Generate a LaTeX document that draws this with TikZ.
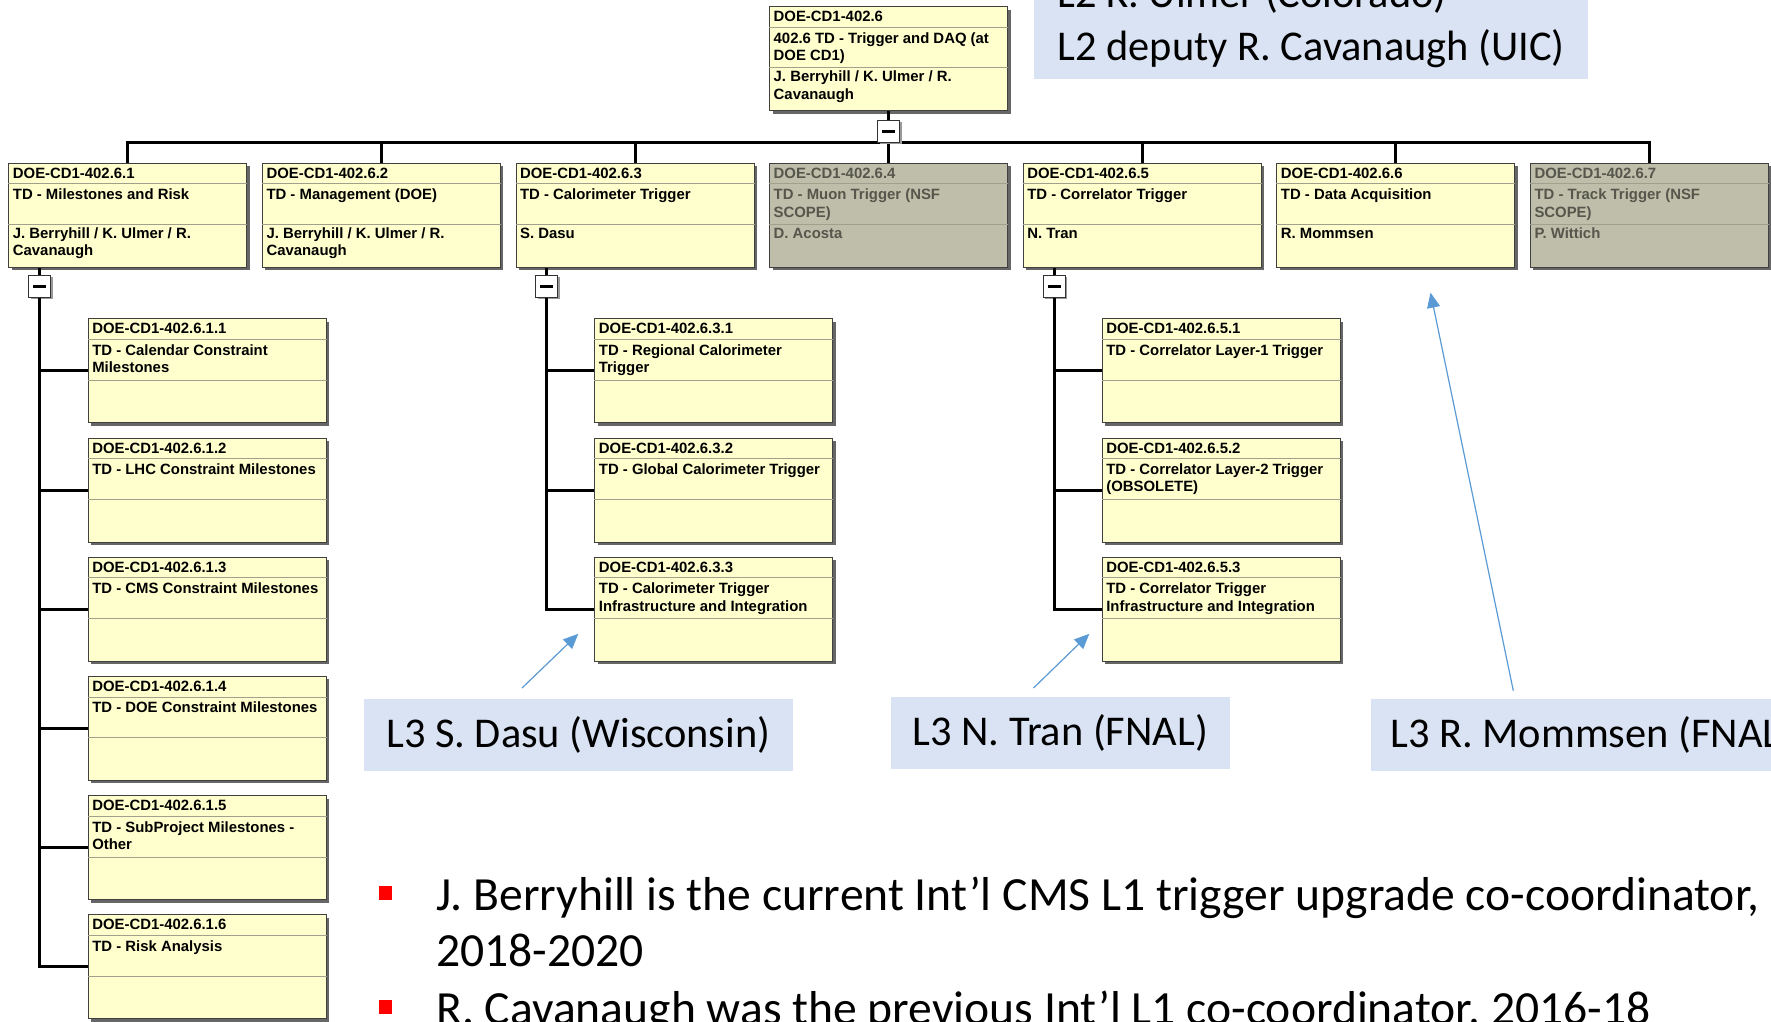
\documentclass[tikz,border=0pt]{standalone}
\usepackage{fontspec}
\setmainfont{Liberation Sans}
\newfontfamily\calibri{Carlito}
\usetikzlibrary{arrows.meta,shadows,positioning}

\definecolor{boxyellow}{RGB}{255,255,206}
\definecolor{boxgray}{RGB}{190,190,170}
\definecolor{txtyellow}{RGB}{0,0,0}
\definecolor{txtgray}{RGB}{86,86,76}
\definecolor{rulecolor}{RGB}{160,160,140}
\definecolor{noteblue}{RGB}{218,227,243}
\definecolor{arrowblue}{RGB}{91,155,213}

\begin{document}
\begin{tikzpicture}[x=1pt, y=-1pt,
            wbs/.style = {
                draw=black!75, line width=1pt,
                minimum width=238pt, minimum height=104pt,
                inner sep=0pt, anchor=north west,
                drop shadow={shadow xshift=3pt, shadow yshift=-3pt, opacity=1, fill=black!60}
            },
            wbsrule/.style = {draw=rulecolor, line width=0.8pt},
            lbl/.style = {
                anchor=base west, inner sep=0pt, text width=230pt, align=flush left,
                font=\fontsize{14.9}{17.4}\selectfont\bfseries
            },
            wbsedge/.style = {line width=3pt},
            btn/.style = {
                draw=black!80, fill=white, line width=1pt, minimum size=22pt, inner sep=0pt,
                drop shadow={shadow xshift=2pt, shadow yshift=-2pt, opacity=1, fill=black!40}
            },
            l3note/.style = {
                fill=noteblue, inner sep=0pt, anchor=north west, minimum height=72pt,
                font=\calibri\fontsize{42.4}{52}\selectfont
            },
            pointer/.style = {
                draw=arrowblue, line width=1.2pt,
                -{Triangle[length=15pt,width=13pt]}
            },
            bulletsq/.style = {fill=red, minimum width=13pt, minimum height=14pt, inner sep=0pt},
            bullettext/.style = {
                anchor=base west, inner sep=0pt, text width=1400pt, align=flush left,
                font=\calibri\fontsize{47.6}{56.7}\selectfont
            }
            ]
            \useasboundingbox (0,0) rectangle (1771,1021);
            \clip (0,0) rectangle (1771,1021);
            \fill[white] (0,0) rectangle (1771,1021);

            % one WBS box: name, colour, placement, id, title, person
            \newcommand{\wbsbox}[6]{%
                \node[wbs, fill=box#2, #3] (#1) {};
                \draw[wbsrule] ([yshift=-21pt]#1.north west) -- ([yshift=-21pt]#1.north east);
                \draw[wbsrule] ([yshift=-61.8pt]#1.north west) -- ([yshift=-61.8pt]#1.north east);
                \node[lbl, text=txt#2] (#1id) at ([xshift=4.4pt,yshift=-15.6pt]#1.north west) {#4};
                \node[lbl, text=txt#2] (#1ti) at ([xshift=4.4pt,yshift=-37pt]#1.north west) {#5};
                \node[lbl, text=txt#2] (#1pe) at ([xshift=4.4pt,yshift=-75.6pt]#1.north west) {#6};
            }

            % Top level
            \wbsbox{top}{yellow}{at={(769.1,6)}}{DOE-CD1-402.6}{402.6 TD - Trigger and DAQ (at\\DOE CD1)}{J. Berryhill / K. Ulmer / R.\\Cavanaugh}

            % Second level
            \wbsbox{b1}{yellow}{at={(8.3,162.7)}}{DOE-CD1-402.6.1}{TD - Milestones and Risk}{J. Berryhill / K. Ulmer / R.\\Cavanaugh}
            \wbsbox{b2}{yellow}{right=14.6pt of b1}{DOE-CD1-402.6.2}{TD - Management (DOE)}{J. Berryhill / K. Ulmer / R.\\Cavanaugh}
            \wbsbox{b3}{yellow}{right=14.6pt of b2}{DOE-CD1-402.6.3}{TD - Calorimeter Trigger}{S. Dasu}
            \wbsbox{b4}{gray}{right=14.6pt of b3}{DOE-CD1-402.6.4}{TD - Muon Trigger (NSF\\SCOPE)}{D. Acosta}
            \wbsbox{b5}{yellow}{right=14.6pt of b4}{DOE-CD1-402.6.5}{TD - Correlator Trigger}{N. Tran}
            \wbsbox{b6}{yellow}{right=14.6pt of b5}{DOE-CD1-402.6.6}{TD - Data Acquisition}{R. Mommsen}
            \wbsbox{b7}{gray}{right=14.6pt of b6}{DOE-CD1-402.6.7}{TD - Track Trigger (NSF\\SCOPE)}{P. Wittich}

            % Third level
            \wbsbox{b1c1}{yellow}{at={(87.7,318.3)}}{DOE-CD1-402.6.1.1}{TD - Calendar Constraint\\Milestones}{}
            \wbsbox{b1c2}{yellow}{below=14.2pt of b1c1}{DOE-CD1-402.6.1.2}{TD - LHC Constraint Milestones}{}
            \wbsbox{b1c3}{yellow}{below=14.2pt of b1c2}{DOE-CD1-402.6.1.3}{TD - CMS Constraint Milestones}{}
            \wbsbox{b1c4}{yellow}{below=14.2pt of b1c3}{DOE-CD1-402.6.1.4}{TD - DOE Constraint Milestones}{}
            \wbsbox{b1c5}{yellow}{below=14.2pt of b1c4}{DOE-CD1-402.6.1.5}{TD - SubProject Milestones -\\Other}{}
            \wbsbox{b1c6}{yellow}{below=14.2pt of b1c5}{DOE-CD1-402.6.1.6}{TD - Risk Analysis}{}

            \wbsbox{b3c1}{yellow}{at={(594.3,318.3)}}{DOE-CD1-402.6.3.1}{TD - Regional Calorimeter\\Trigger}{}
            \wbsbox{b3c2}{yellow}{below=14.2pt of b3c1}{DOE-CD1-402.6.3.2}{TD - Global Calorimeter Trigger}{}
            \wbsbox{b3c3}{yellow}{below=14.2pt of b3c2}{DOE-CD1-402.6.3.3}{TD - Calorimeter Trigger\\Infrastructure and Integration}{}

            \wbsbox{b5c1}{yellow}{at={(1101.7,318.3)}}{DOE-CD1-402.6.5.1}{TD - Correlator Layer-1 Trigger}{}
            \wbsbox{b5c2}{yellow}{below=14.2pt of b5c1}{DOE-CD1-402.6.5.2}{TD - Correlator Layer-2 Trigger\\(OBSOLETE)}{}
            \wbsbox{b5c3}{yellow}{below=14.2pt of b5c2}{DOE-CD1-402.6.5.3}{TD - Correlator Trigger\\Infrastructure and Integration}{}

            % Tree lines
            \coordinate (bus) at ([yshift=-31pt]top.south);
            \draw[wbsedge] (b1.north) |- (bus) -| (b7.north);
            \foreach \i in {2,...,6}
                \draw[wbsedge] (b\i.north) -- (b\i.north |- bus);
            \draw[wbsedge] (top.south) -- (bus);
            \node[btn] (btntop) at ([yshift=-20pt]top.south) {\rule{13pt}{3pt}};

            \foreach \p/\n in {b1/6, b3/3, b5/3} {
                \coordinate (down\p) at ([xshift=31.4pt]\p.south west);
                \node[btn] (btn\p) at ([yshift=-18.7pt]down\p) {\rule{13pt}{3pt}};
                \draw[wbsedge] (down\p) -- (btn\p.north);
                \draw[wbsedge] (btn\p.south) |- (\p c\n.west);
                \foreach \k in {1,...,\n}
                    \draw[wbsedge] (btn\p.south |- \p c\k.west) -- (\p c\k.west);
            }

            % Notes
            \node[l3note, anchor=south west, align=left, minimum width=554pt,
                  inner xsep=19.4pt, inner ysep=11pt, font=\calibri\fontsize{42.4}{53}\selectfont]
                  (l2) at (1034,79.3) {L2 K. Ulmer (Colorado)\\L2 deputy R. Cavanaugh (UIC)};
            \node[l3note, minimum width=429pt] (dasu) at (363.7,699) {L3 S. Dasu (Wisconsin)};
            \node[l3note, minimum width=339.5pt] (tran) at (890.3,696.7) {L3 N. Tran (FNAL)};
            \node[l3note, inner xsep=19.6pt] (mommsen) at (1370.4,699) {L3 R. Mommsen (FNAL)};

            \coordinate (dasutail) at ([xshift=158.3pt,yshift=11pt]dasu.north west);
            \coordinate (dasutip) at ([xshift=-16pt,yshift=-24.6pt]b3c3.west);
            \coordinate (trantail) at ([xshift=143.2pt,yshift=8.7pt]tran.north west);
            \coordinate (trantip) at ([xshift=-12.4pt,yshift=-24.6pt]b5c3.west);
            \coordinate (mommsentail) at ([xshift=142.9pt,yshift=8.3pt]mommsen.north west);
            \coordinate (mommsentip) at ([xshift=34.7pt,yshift=-25pt]b6.south);
            \draw[pointer] (dasutail) -- (dasutip);
            \draw[pointer] (trantail) -- (trantip);
            \draw[pointer] (mommsentail) -- (mommsentip);

            % Bullets
            \node[bulletsq] (sq1) at (385,892.5) {};
            \node[bullettext] (bl1) at (435.8,910) {J. Berryhill is the current Int’l CMS L1 trigger upgrade co-coordinator,\\2018-2020};
            \node[bulletsq] (sq2) at (385,1007) {};
            \node[bullettext] (bl2) at (435.8,1024.5) {R. Cavanaugh was the previous Int’l L1 co-coordinator, 2016-18};
        \end{tikzpicture}
\end{document}
